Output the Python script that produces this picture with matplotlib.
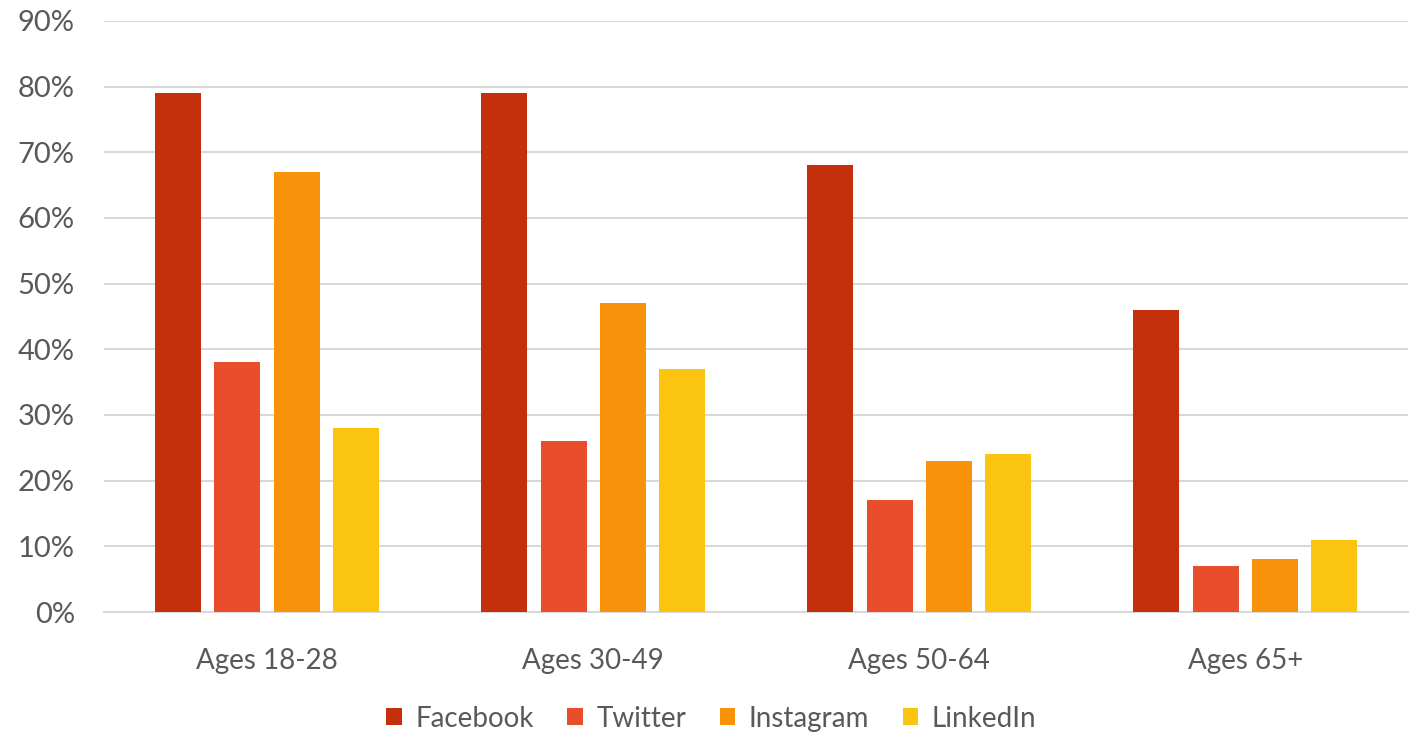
import matplotlib
matplotlib.use("Agg")
import matplotlib.pyplot as plt
import numpy as np
from matplotlib.ticker import FuncFormatter

categories = ["Ages 18-28", "Ages 30-49", "Ages 50-64", "Ages 65+"]
series_names = ["Facebook", "Twitter", "Instagram", "LinkedIn"]
facebook = [79, 79, 68, 46]
twitter = [38, 26, 17, 7]
instagram = [67, 47, 23, 8]
linkedin = [28, 37, 24, 11]
colors = ["#C4300C", "#E84E2C", "#F7920A", "#FBC410"]

plt.rcParams['font.family'] = ['Lato', 'DejaVu Sans']
text_color = "#595959"

fig = plt.figure(figsize=(14.17, 7.37), dpi=100)
ax = fig.add_axes([0.0734, 0.1696, 0.9206, 0.802])

x = np.arange(len(categories))
step = 0.182
width = 0.141
for i, (vals, name, c) in enumerate(zip([facebook, twitter, instagram, linkedin], series_names, colors)):
    ax.bar(x + (i - 1.5) * step, vals, width=width, color=c, label=name, zorder=3)

ax.set_xlim(-0.5, 3.5)
ax.set_ylim(0, 90)
ax.set_yticks(np.arange(0, 91, 10))
ax.yaxis.set_major_formatter(FuncFormatter(lambda v, p: f"{int(v)}%"))
ax.set_xticks(x)
ax.set_xticklabels(categories)
ax.grid(axis='y', color="#D9D9D9", linewidth=1.5, zorder=0)
for s in ["top", "right", "left"]:
    ax.spines[s].set_visible(False)
ax.spines["bottom"].set_color("#D9D9D9")
ax.spines["bottom"].set_linewidth(1.5)
ax.tick_params(axis='both', length=0, colors=text_color)
ax.tick_params(axis='y', labelsize=21, pad=21)
ax.tick_params(axis='x', labelsize=20, pad=26)

leg = fig.legend(loc="center", bbox_to_anchor=(0.502, 0.025), ncol=4, frameon=False,
                 fontsize=20, handlelength=0.55, handleheight=0.55, handletextpad=0.5,
                 columnspacing=1.2)
for t in leg.get_texts():
    t.set_color(text_color)

fig.savefig("out.png", dpi=100, facecolor="white")
